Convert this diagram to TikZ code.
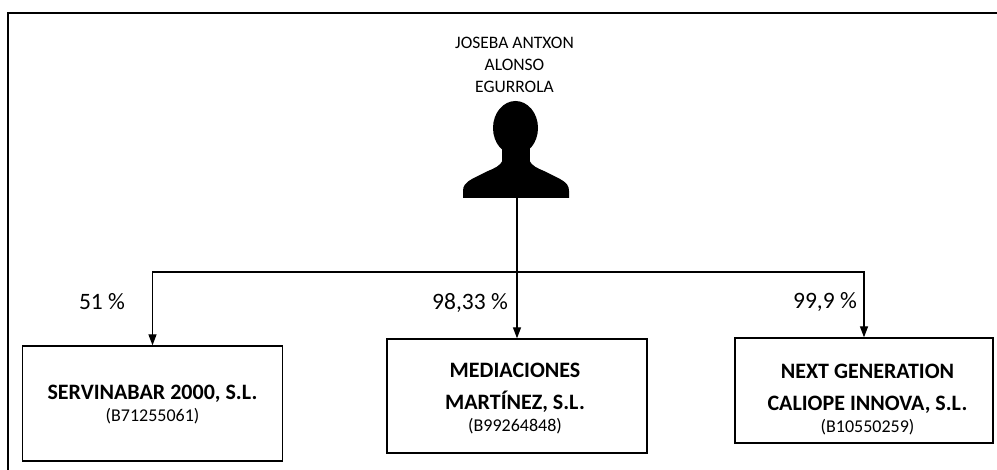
\documentclass[tikz,border=0pt]{standalone}
\usepackage{fontspec}
\setmainfont{Carlito}
\usetikzlibrary{arrows.meta}
\begin{document}
\begin{tikzpicture}[x=1pt,y=-1pt,
  box/.style={draw,line width=1.3pt,minimum width=#1,inner sep=0pt},
  boxtext/.style={align=center,inner sep=0pt,font=\fontsize{22}{32}\selectfont},
  conn/.style={line width=1.3pt,-{Triangle[length=11pt,width=8pt]}},
  pct/.style={font=\fontsize{23.5}{26}\selectfont},
]
\newcommand{\bl}[1]{\textbf{#1}}
\newcommand{\idl}[1]{{\fontsize{18}{20}\selectfont #1}}
\useasboundingbox (0,0) rectangle (997,470);
% frame
\draw[line width=1.3pt] (997,13) -- (8,13) -- (8,470);
% name
\node[align=center,font=\fontsize{17.5}{22}\selectfont] (name) at (514.5,65) {JOSEBA ANTXON\\ALONSO\\EGURROLA};
% silhouette
\fill (515.5,128) ellipse [x radius=22.5, y radius=27];
\fill (502,145) rectangle (530,170);
\fill (503,160) .. controls (500,166) and (495,168) .. (488,171) -- (472,179) .. controls (465,183) and (463,186) .. (463,191) -- (463,198) -- (569,198) -- (569,191) .. controls (569,186) and (567,183) .. (560,179) -- (544,171) .. controls (537,168) and (532,166) .. (529,160) -- cycle;
\coordinate (person) at (517,198);
\coordinate (jn) at (517,272);
% boxes
\node[box=260pt,minimum height=115pt] (left) at (152.5,403.5) {};
\node[box=260pt,minimum height=114pt] (mid) at (517,396) {};
\node[box=258pt,minimum height=105pt] (right) at (864,390.5) {};
\node[boxtext] (lefttext) at (152.5,405) {\bl{SERVINABAR 2000, S.L.}\\[-10pt]\idl{(B71255061)}};
\node[boxtext] (midtext) at (515,398.5) {\bl{MEDIACIONES}\\\bl{MARTÍNEZ, S.L.}\\[-10pt]\idl{(B99264848)}};
\node[boxtext] (righttext) at (867.5,399.5) {\bl{NEXT GENERATION}\\\bl{CALIOPE INNOVA, S.L.}\\[-10pt]\idl{(B10550259)}};
% connectors
\draw[conn] (person) -- (mid.north);
\draw[line width=1.3pt] (left.north |- jn) -- (right.north |- jn);
\draw[conn] (jn) -| (left.north);
\draw[conn] (jn) -| (right.north);
% labels
\node[pct] (p1) at (102,302) {51 \%};
\node[pct] (p2) at (470,303) {98,33 \%};
\node[pct] (p3) at (825,302) {99,9 \%};
\end{tikzpicture}
\end{document}
